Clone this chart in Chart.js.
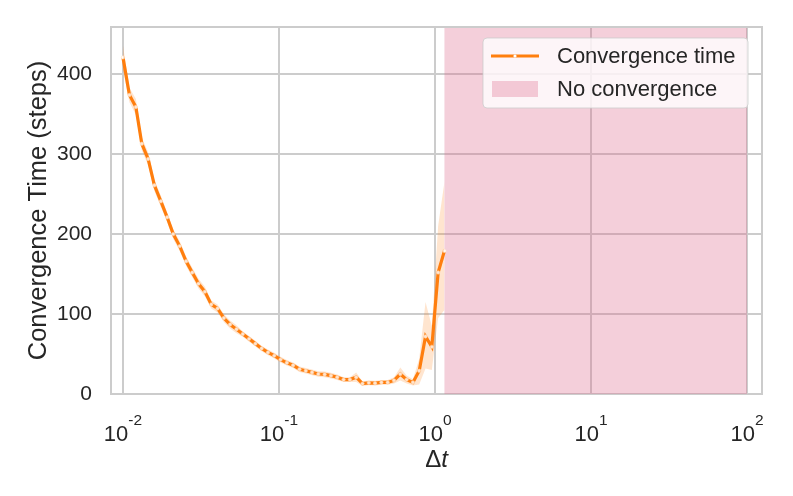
<!DOCTYPE html>
<html>
<head>
<meta charset="utf-8">
<script src="https://cdn.jsdelivr.net/npm/chart.js@4.4.1/dist/chart.umd.min.js"></script>
<style>
    html, body { margin: 0; padding: 0; background: #ffffff; }
    #chart { display: block; }
</style>
</head>
<body>
<canvas id="chart" width="793" height="496"></canvas>
<script>
// step sizes (log spaced) and measured convergence time
const dtValues = [
    0.0100, 0.0110, 0.0121, 0.0132, 0.0145, 0.0159, 0.0175, 0.0192, 0.0210, 0.0231,
    0.0254, 0.0278, 0.0305, 0.0335, 0.0368, 0.0404, 0.0443, 0.0486, 0.0534, 0.0586,
    0.0643, 0.0706, 0.0774, 0.0850, 0.0933, 0.1024, 0.1123, 0.1233, 0.1353, 0.1485,
    0.1629, 0.1788, 0.1963, 0.2154, 0.2364, 0.2595, 0.2848, 0.3125, 0.3430, 0.3765,
    0.4130, 0.4534, 0.4976, 0.5462, 0.5994, 0.6579, 0.7221, 0.7925, 0.8697, 0.9545,
    1.0476, 1.1498,
];
const meanSteps = [
    421, 374, 359, 313, 294, 261, 241, 221, 200, 185,
    166, 152, 138, 128, 112, 107, 95, 87, 81, 75,
    69, 63, 57, 52, 48, 43, 39, 36, 31, 29,
    27, 25, 24.5, 23, 21, 18, 18, 21, 13, 14,
    13.5, 14.5, 14.5, 17, 25, 18, 14.5, 29, 72, 59,
    152, 179,
];
const lowerSteps = [
    406, 365, 349, 305, 286, 254, 234, 215, 194, 179,
    160, 146, 132, 122, 107, 102, 90, 82, 76, 71.5,
    65.5, 59.5, 53.5, 48.5, 44.5, 39.5, 35.5, 32.5, 27.5, 25.5,
    23.5, 21.5, 21, 19.5, 17.5, 15, 15, 15, 10, 11,
    10.5, 11.5, 11.5, 13, 17, 13, 10.5, 12, 32, 30,
    95, 105,
];
const upperSteps = [
    436, 383, 369, 321, 302, 268, 248, 227, 206, 191,
    172, 158, 144, 134, 117, 112, 100, 92, 86, 78.5,
    72.5, 66.5, 60.5, 55.5, 51.5, 46.5, 42.5, 39.5, 34.5, 32.5,
    30.5, 28.5, 28, 26.5, 24.5, 21, 21, 27, 16, 17,
    16.5, 17.5, 17.5, 21, 33, 23, 18.5, 44, 115, 85,
    210, 265,
];
const noConvergence = [1.1498, 100];
const xTicks = [0.01, 0.1, 1, 10, 100];
const xTickExp = ["-2", "-1", "0", "1", "2"];
const yTicks = [0, 100, 200, 300, 400];

const FONT = "'Liberation Sans', Arial, sans-serif";
const TEXT = "#262626";
const GRID = "#cccccc";
const ORANGE = "#ff7f0e";
const PINK = "rgba(222, 105, 140, 0.32)";

const pts = (ys) => dtValues.map((x, i) => ({ x: x, y: ys[i] }));

// pink span, borders, x labels, legend
const extras = {
    id: "extras",
    beforeDatasetsDraw(chart) {
        const { ctx, chartArea } = chart;
        const xs = chart.scales.x;
        const x0 = xs.getPixelForValue(noConvergence[0]);
        const x1 = xs.getPixelForValue(noConvergence[1]);
        ctx.save();
        ctx.fillStyle = PINK;
        ctx.fillRect(x0, chartArea.top, x1 - x0, chartArea.bottom - chartArea.top);
        ctx.restore();
    },
    afterDraw(chart) {
        const { ctx, chartArea } = chart;
        const xs = chart.scales.x;
        ctx.save();
        // top + right spines
        ctx.strokeStyle = GRID;
        ctx.lineWidth = 2;
        ctx.beginPath();
        ctx.moveTo(chartArea.left, chartArea.top);
        ctx.lineTo(chartArea.right, chartArea.top);
        ctx.lineTo(chartArea.right, chartArea.bottom);
        ctx.stroke();

        // x tick labels 10^n
        ctx.fillStyle = TEXT;
        ctx.textBaseline = "alphabetic";
        ctx.textAlign = "left";
        xTicks.forEach((v, i) => {
            const px = xs.getPixelForValue(v);
            ctx.font = "22px " + FONT;
            const wBase = ctx.measureText("10").width;
            ctx.font = "15.5px " + FONT;
            const wExp = ctx.measureText(xTickExp[i]).width;
            const left = px - (wBase + wExp) / 2;
            ctx.font = "22px " + FONT;
            ctx.fillText("10", left, 441);
            ctx.font = "15.5px " + FONT;
            ctx.fillText(xTickExp[i], left + wBase, 425);
        });

        // x title: Δt
        const cx = (chartArea.left + chartArea.right) / 2;
        ctx.font = "24px " + FONT;
        const wD = ctx.measureText("Δ").width;
        ctx.font = "italic 24px " + FONT;
        const wT = ctx.measureText("t").width;
        const lx = cx - (wD + wT) / 2;
        ctx.font = "24px " + FONT;
        ctx.fillText("Δ", lx, 467);
        ctx.font = "italic 24px " + FONT;
        ctx.fillText("t", lx + wD, 467);

        // legend
        const bx = 483, by = 38, bw = 265, bh = 70;
        ctx.beginPath();
        ctx.roundRect(bx, by, bw, bh, 4);
        ctx.fillStyle = "rgba(255,255,255,0.8)";
        ctx.fill();
        ctx.strokeStyle = "rgba(204,204,204,0.8)";
        ctx.lineWidth = 1;
        ctx.stroke();

        ctx.strokeStyle = ORANGE;
        ctx.lineWidth = 3;
        ctx.beginPath();
        ctx.moveTo(491, 56);
        ctx.lineTo(539, 56);
        ctx.stroke();
        ctx.beginPath();
        ctx.arc(515, 56, 1.6, 0, Math.PI * 2);
        ctx.fillStyle = "#ffffff";
        ctx.fill();

        ctx.fillStyle = PINK;
        ctx.fillRect(492, 81, 46, 16);

        ctx.fillStyle = TEXT;
        ctx.font = "22px " + FONT;
        ctx.textBaseline = "middle";
        ctx.fillText("Convergence time", 557, 57);
        ctx.fillText("No convergence", 557, 90);
        ctx.restore();
    },
};

new Chart(document.querySelector("#chart").getContext("2d"), {
    type: "line",
    data: {
        datasets: [
            {
                label: "lower",
                data: pts(lowerSteps),
                borderWidth: 0,
                pointRadius: 0,
                fill: false,
            },
            {
                label: "upper",
                data: pts(upperSteps),
                borderWidth: 0,
                pointRadius: 0,
                backgroundColor: "rgba(255,127,14,0.2)",
                fill: "-1",
            },
            {
                label: "Convergence time",
                data: pts(meanSteps),
                borderColor: ORANGE,
                borderWidth: 3.2,
                pointRadius: 1.7,
                pointBackgroundColor: "#ffffff",
                pointBorderColor: "#ffe2c8",
                pointBorderWidth: 0.6,
                fill: false,
            },
        ],
    },
    options: {
        responsive: false,
        animation: false,
        layout: { padding: { top: 27, right: 31, left: 0, bottom: 0 } },
        plugins: {
            legend: { display: false },
            tooltip: { enabled: false },
        },
        scales: {
            x: {
                type: "logarithmic",
                min: 0.00838,
                max: 124.8,
                afterBuildTicks: (scale) => {
                    scale.ticks = xTicks.map((v) => ({ value: v }));
                },
                afterFit: (scale) => {
                    scale.height = 102;
                    scale.paddingLeft = 0;
                    scale.paddingRight = 0;
                    scale.paddingTop = 0;
                    scale.paddingBottom = 0;
                },
                ticks: { display: false },
                grid: { color: GRID, lineWidth: 2, drawTicks: false },
                border: { color: GRID, width: 2 },
            },
            y: {
                min: 0,
                max: 459,
                afterBuildTicks: (scale) => {
                    scale.ticks = yTicks.map((v) => ({ value: v }));
                },
                afterFit: (scale) => {
                    scale.width = 111;
                    scale.paddingTop = 0;
                    scale.paddingBottom = 0;
                },
                ticks: {
                    color: TEXT,
                    padding: 19,
                    font: { family: FONT, size: 21 },
                },
                grid: { color: GRID, lineWidth: 2, drawTicks: false },
                border: { color: GRID, width: 2 },
                title: {
                    display: true,
                    text: "Convergence Time (steps)",
                    color: TEXT,
                    font: { family: FONT, size: 25.5 },
                    padding: { top: 24, bottom: 0 },
                },
            },
        },
    },
    plugins: [extras],
});
</script>
</body>
</html>
